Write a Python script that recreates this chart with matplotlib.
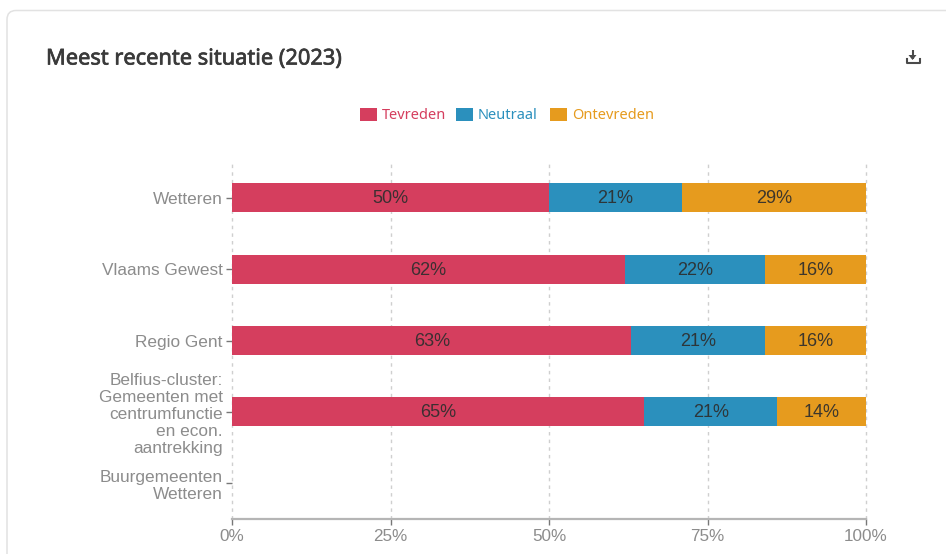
import matplotlib
matplotlib.use("Agg")
import matplotlib.pyplot as plt
import matplotlib.patheffects as pe
from matplotlib.patches import FancyBboxPatch, Rectangle

W, H = 946, 554

categories = ["Wetteren", "Vlaams Gewest", "Regio Gent",
              "Belfius-cluster:\nGemeenten met\ncentrumfunctie\nen econ.\naantrekking",
              "Buurgemeenten\nWetteren"]
tevreden = [50, 62, 63, 65, 0]
neutraal = [21, 22, 21, 21, 0]
ontevreden = [29, 16, 16, 14, 0]
series_names = ["Tevreden", "Neutraal", "Ontevreden"]
series_colors = ["#d53e5e", "#2b90bd", "#e69b1e"]
x_ticks = [0, 25, 50, 75, 100]

TITLE_FONT = "Noto Sans"
GREY = "#8c8c8c"

fig = plt.figure(figsize=(W / 100, H / 100), dpi=100, facecolor="white")

# pixel canvas for the card, title, legend and icon
bg = fig.add_axes([0, 0, 1, 1])
bg.set_xlim(0, W)
bg.set_ylim(H, 0)
bg.axis("off")
bg.add_patch(FancyBboxPatch((7, 10.5), 1000, 600, boxstyle="round,pad=0,rounding_size=9",
                            fc="white", ec="#e2e2e2", lw=1.1))
title = bg.text(46, 59, "Meest recente situatie (2023)", fontfamily=TITLE_FONT, fontsize=15.7,
                color="#3a3a3a", va="center", ha="left")
title.set_path_effects([pe.withStroke(linewidth=0.5, foreground="#3a3a3a")])

# legend
legend_x = [(360, 382), (456, 478), (550, 572)]
for (box_x, text_x), name, col in zip(legend_x, series_names, series_colors):
    bg.add_patch(Rectangle((box_x, 108), 17, 13, fc=col, ec="none"))
    bg.text(text_x, 115.5, name, fontfamily=TITLE_FONT, fontsize=10.5, color=col, va="center", ha="left")

# download icon
ic = "#4a4a4a"
bg.plot([912.5, 912.5], [50, 59], color=ic, lw=1.5, solid_capstyle="butt")
bg.fill([908.5, 916.5, 912.5], [55, 55, 60], color=ic, lw=0)
bg.plot([906.5, 906.5, 919.5, 919.5], [59, 62.5, 62.5, 59], color=ic, lw=1.5, solid_joinstyle="round")

# chart area
left, right, top, bottom = 232, 866, 162, 519
ax = fig.add_axes([left / W, 1 - bottom / H, (right - left) / W, (bottom - top) / H])
ax.patch.set_alpha(0)
ax.set_xlim(0, 100)
ax.set_ylim(len(categories) - 0.5, -0.5)

ypos = list(range(len(categories)))
bar_h = 0.405
starts = [0] * len(categories)
for vals, col in zip([tevreden, neutraal, ontevreden], series_colors):
    ax.barh(ypos, vals, left=starts, height=bar_h, color=col, edgecolor="none", zorder=3)
    for y, v, s in zip(ypos, vals, starts):
        if v > 0:
            ax.text(s + v / 2, y + 0.015, f"{v}%", ha="center", va="center", fontsize=13,
                    fontfamily="Liberation Sans", color="#2e2e2e", alpha=0.92, zorder=4)
    starts = [s + v for s, v in zip(starts, vals)]

ax.set_xticks(x_ticks)
ax.set_xticklabels([f"{t}%" for t in x_ticks])
ax.set_yticks(ypos)
ax.set_yticklabels(categories, linespacing=1.17)
ax.grid(axis="x", color="#cfcfcf", linestyle=(0, (2.5, 3)), linewidth=1, zorder=1)
for line in ax.get_xgridlines():
    line.set_clip_on(False)
ax.tick_params(axis="x", length=4.5, width=1, color="#777777", labelcolor=GREY, labelsize=12.3, pad=2.5)
ax.tick_params(axis="y", length=4.5, width=1, color="#777777", labelcolor=GREY, labelsize=12.4, pad=2.2)
for lab in ax.get_xticklabels() + ax.get_yticklabels():
    lab.set_fontfamily("Liberation Sans")

for side in ["top", "right", "left"]:
    ax.spines[side].set_visible(False)
ax.spines["bottom"].set_color("#b5b5b5")
ax.spines["bottom"].set_linewidth(1.6)

fig.savefig("out.png", dpi=100)
